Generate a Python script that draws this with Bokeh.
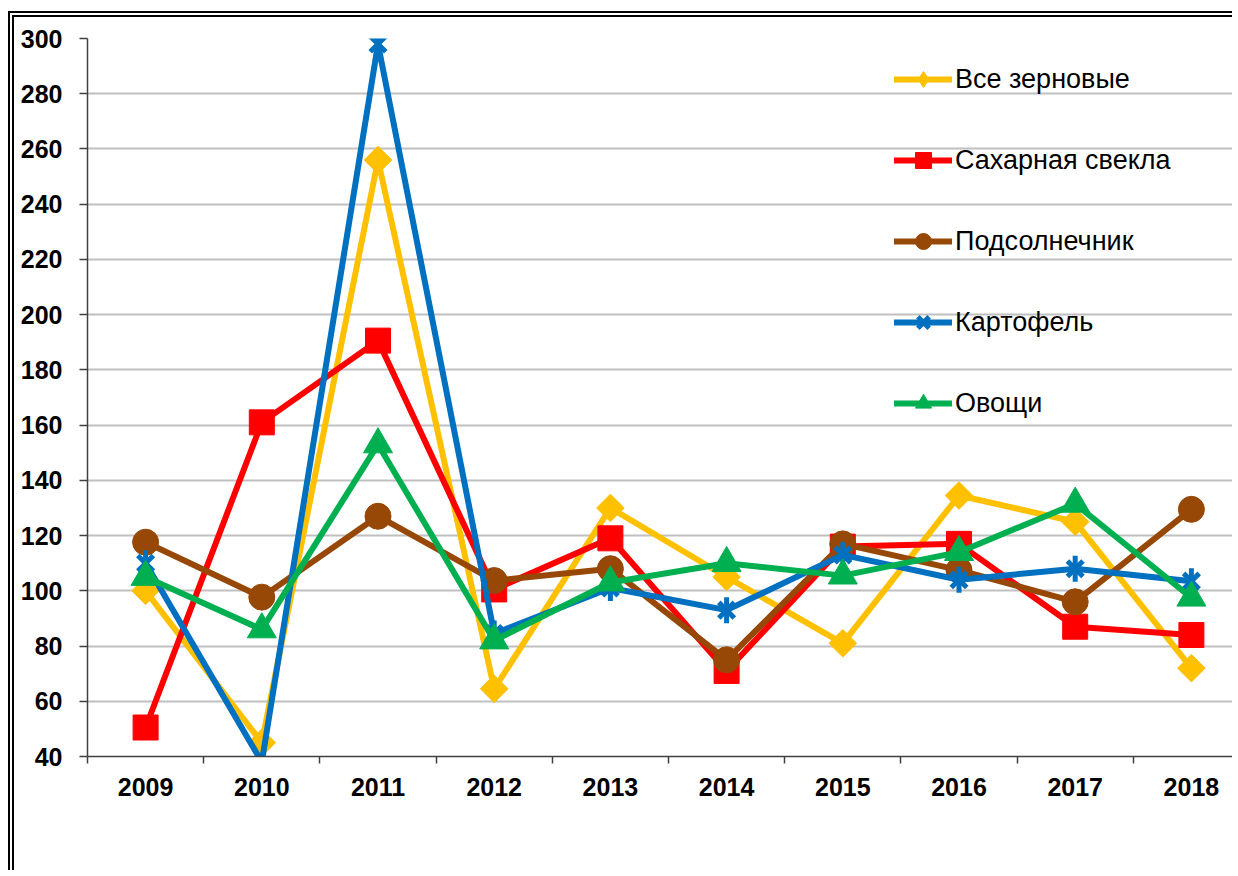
import numpy as np
from bokeh.plotting import figure
from bokeh.models import FixedTicker, Legend, LegendItem, Range1d, ColumnDataSource
from bokeh.embed import file_html
from bokeh.resources import INLINE

# ---- data ----
years = ["2009", "2010", "2011", "2012", "2013", "2014", "2015", "2016", "2017", "2018"]
grain = [100, 45, 256, 64.5, 130, 105, 81, 134.5, 125, 72]
sugar_beet = [50.5, 161, 190.6, 100.5, 119, 71, 116, 117, 87, 84]
sunflower = [117.6, 97.7, 127, 103.7, 108, 75, 117, 107.5, 96, 129.5]
potato = [110, 38, 298, 84.5, 101, 93, 113, 104, 108, 103.5]
vegetables = [105, 86, 153, 82, 103, 110, 105.5, 114, 131.5, 97.5]
names = ["Все зерновые", "Сахарная свекла", "Подсолнечник", "Картофель", "Овощи"]
y_ticks = list(range(40, 301, 20))

FONT = "Liberation Sans"
W, H = 1224, 859
TOP = 21
BOTTOM = H - 739
p = figure(width=W, height=H, output_backend="svg", toolbar_location=None,
           x_range=Range1d(0, 1151 / 116.2), y_range=Range1d(40, 300),
           min_border_left=73, min_border_right=0, min_border_top=TOP,
           min_border_bottom=BOTTOM)
p.outline_line_color = None
p.styles = {"border-left": "6px double black", "border-top": "6px double black",
            "position": "relative", "top": "11px", "left": "8px"}

xc = np.arange(len(years)) + 0.5

# axes
p.xaxis.ticker = FixedTicker(ticks=list(xc), minor_ticks=list(range(0, 11)))
p.xaxis.major_label_overrides = {float(v): y for v, y in zip(xc, years)}
p.xaxis.major_tick_out = 0
p.xaxis.major_tick_in = 0
p.xaxis.minor_tick_out = 7
p.xaxis.minor_tick_in = 0
p.xaxis.major_label_standoff = 14
p.yaxis.ticker = FixedTicker(ticks=y_ticks)
p.yaxis.major_tick_out = 8
p.yaxis.major_tick_in = 0
p.yaxis.major_label_standoff = 17
for ax in (p.xaxis, p.yaxis):
    ax.axis_line_color = "#404040"
    ax.axis_line_width = 1.5
    ax.major_tick_line_color = "#404040"
    ax.minor_tick_line_color = "#404040"
    ax.major_tick_line_width = 1.5
    ax.minor_tick_line_width = 1.5
    ax.major_label_text_font = FONT
    ax.major_label_text_font_size = "25px"
    ax.major_label_text_font_style = "bold"
    ax.major_label_text_color = "black"
p.yaxis.minor_tick_line_color = None
p.xgrid.grid_line_color = None
p.ygrid.ticker = FixedTicker(ticks=y_ticks)
p.ygrid.grid_line_color = "#C0C0C0"
p.ygrid.grid_line_width = 2

series = [grain, sugar_beet, sunflower, potato, vegetables]
colors = ["#FFC000", "#FF0000", "#974806", "#0070C0", "#00B050"]
items = []
for name, vals, col in zip(names, series, colors):
    vals = np.array(vals, dtype=float)
    line = p.line(xc, vals, line_color=col, line_width=6, line_join="round", line_cap="round")
    mask = vals >= 40  # out-of-range points get no marker
    src = ColumnDataSource(dict(x=xc[mask], y=vals[mask]))
    rs = [line]
    if name == "Все зерновые":
        # narrow diamond (shown in legend), covered in the plot by a rotated square
        rs.append(p.scatter("x", "y", source=src, marker="diamond", size=26,
                            fill_color=col, line_color=col))
        p.scatter("x", "y", source=src, marker="square", angle=np.pi / 4, size=19.5,
                  fill_color=col, line_color=col)
    elif name == "Сахарная свекла":
        rs.append(p.scatter("x", "y", source=src, marker="square", size=25,
                            fill_color=col, line_color=col))
    elif name == "Подсолнечник":
        rs.append(p.scatter("x", "y", source=src, marker="circle", size=26,
                            fill_color=col, line_color=col))
    elif name == "Картофель":
        rs.append(p.scatter("x", "y", source=src, marker="x", size=22,
                            line_color=col, line_width=5))
        rs.append(p.scatter("x", "y", source=src, marker="dash", angle=np.pi / 2, size=26,
                            line_color=col, line_width=5))
    else:
        rs.append(p.scatter("x", "y", source=src, marker="triangle", size=29,
                            fill_color=col, line_color=col))
    items.append(LegendItem(label=name, renderers=rs))

legend = Legend(items=items, location=(807, 333), orientation="vertical",
                background_fill_alpha=0, border_line_alpha=0,
                label_text_font=FONT, label_text_font_size="27px", label_text_color="black",
                glyph_width=58, glyph_height=40, label_height=27, spacing=41,
                label_standoff=3, padding=0, margin=0)
p.add_layout(legend, "center")

open("out.html", "w").write(file_html(p, INLINE))
